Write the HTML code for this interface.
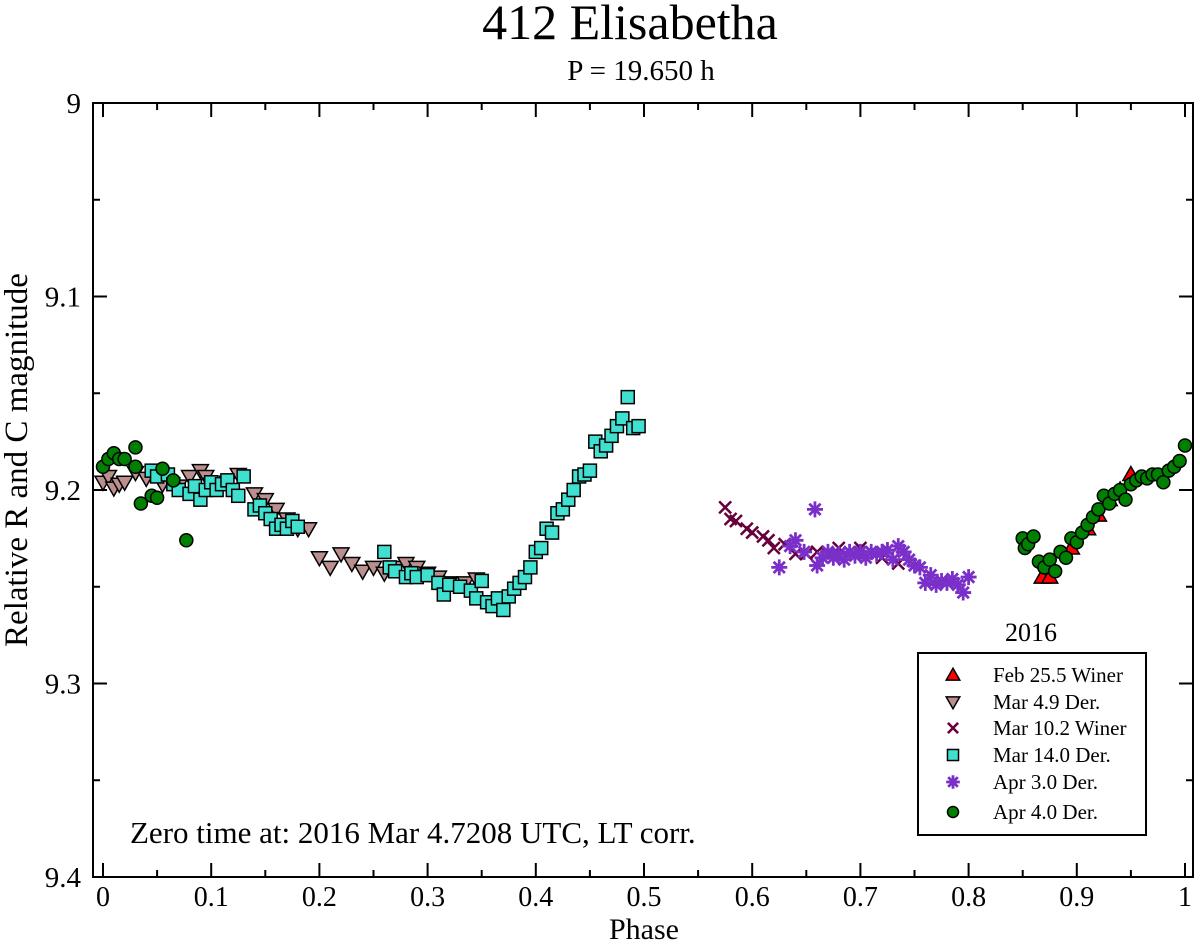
<!DOCTYPE html>
<html><head><meta charset="utf-8"><style>
html,body{margin:0;padding:0;background:#fff}
svg{display:block;font-family:"Liberation Serif",serif}
</style></head><body>
<svg id="chart" width="1200" height="944" viewBox="0 0 1200 944" xmlns="http://www.w3.org/2000/svg">
<text x="630" y="39" font-size="50" text-anchor="middle">412 Elisabetha</text>
<text x="641" y="80" font-size="29" text-anchor="middle">P = 19.650 h</text>
<rect x="93" y="103" width="1100" height="774" fill="none" stroke="#000" stroke-width="2"/>
<g id="axes"></g>
<g id="marks"></g>
<text x="644" y="939" font-size="30" text-anchor="middle">Phase</text>
<text transform="translate(27,460) rotate(-90)" font-size="33" text-anchor="middle">Relative R and C magnitude</text>
<text x="130" y="843" font-size="31">Zero time at: 2016 Mar 4.7208 UTC, LT corr.</text>
<text x="1031" y="641" font-size="26" text-anchor="middle">2016</text>
<g id="legend">
<rect x="918" y="653" width="228" height="182" fill="#fff" stroke="#000" stroke-width="2"/>
</g>
</svg>
<script>
const xTicks=[0,0.1,0.2,0.3,0.4,0.5,0.6,0.7,0.8,0.9,1];
const xTickLabels=["0","0.1","0.2","0.3","0.4","0.5","0.6","0.7","0.8","0.9","1"];
const yTicks=[9,9.1,9.2,9.3,9.4];
const yTickLabels=["9","9.1","9.2","9.3","9.4"];
const seriesNames=["Feb 25.5 Winer","Mar 4.9 Der.","Mar 10.2 Winer","Mar 14.0 Der.","Apr 3.0 Der.","Apr 4.0 Der."];
const febPhase=[0.868,0.875,0.895,0.91,0.92,0.93,0.94,0.95];
const febMag=[9.245,9.245,9.23,9.22,9.213,9.205,9.2,9.192];
const mar4Phase=[0,0.005,0.01,0.015,0.02,0.03,0.04,0.055,0.07,0.08,0.09,0.095,0.1,0.115,0.125,0.14,0.15,0.16,0.17,0.18,0.19,0.2,0.21,0.22,0.23,0.24,0.25,0.26,0.27,0.28,0.29,0.3,0.31,0.32,0.335,0.345];
const mar4Mag=[9.196,9.193,9.199,9.197,9.196,9.191,9.194,9.197,9.198,9.193,9.19,9.193,9.197,9.196,9.192,9.202,9.205,9.21,9.215,9.22,9.22,9.235,9.24,9.233,9.238,9.242,9.24,9.243,9.24,9.238,9.24,9.243,9.245,9.248,9.248,9.246];
const mar10Phase=[0.575,0.58,0.585,0.595,0.6,0.61,0.615,0.62,0.63,0.64,0.65,0.66,0.67,0.68,0.7,0.72,0.735];
const mar10Mag=[9.209,9.215,9.216,9.22,9.222,9.224,9.226,9.23,9.228,9.233,9.233,9.232,9.233,9.23,9.23,9.235,9.238];
const mar14Phase=[0.045,0.05,0.06,0.065,0.07,0.08,0.085,0.09,0.095,0.1,0.105,0.11,0.115,0.12,0.125,0.13,0.14,0.145,0.15,0.155,0.16,0.165,0.17,0.175,0.18,0.26,0.265,0.27,0.28,0.285,0.29,0.3,0.31,0.315,0.32,0.33,0.34,0.345,0.35,0.355,0.36,0.365,0.37,0.375,0.38,0.385,0.39,0.395,0.4,0.405,0.41,0.415,0.42,0.425,0.43,0.435,0.44,0.445,0.45,0.455,0.46,0.465,0.47,0.475,0.48,0.485,0.49,0.495];
const mar14Mag=[9.19,9.193,9.192,9.197,9.2,9.202,9.198,9.205,9.2,9.196,9.2,9.197,9.195,9.2,9.203,9.193,9.21,9.208,9.212,9.215,9.22,9.218,9.22,9.216,9.219,9.232,9.24,9.242,9.245,9.243,9.245,9.244,9.248,9.254,9.249,9.25,9.252,9.256,9.247,9.258,9.26,9.256,9.262,9.255,9.251,9.248,9.245,9.24,9.232,9.23,9.22,9.222,9.212,9.21,9.205,9.2,9.193,9.192,9.19,9.175,9.18,9.177,9.172,9.167,9.163,9.152,9.168,9.167];
const apr3Phase=[0.625,0.635,0.64,0.648,0.658,0.66,0.665,0.67,0.675,0.68,0.685,0.69,0.695,0.7,0.705,0.71,0.715,0.72,0.725,0.73,0.735,0.74,0.745,0.75,0.755,0.76,0.765,0.77,0.775,0.78,0.785,0.79,0.795,0.8];
const apr3Mag=[9.24,9.229,9.226,9.232,9.21,9.239,9.235,9.232,9.235,9.233,9.236,9.232,9.234,9.232,9.235,9.232,9.233,9.232,9.231,9.236,9.229,9.232,9.236,9.239,9.24,9.248,9.244,9.249,9.247,9.248,9.246,9.249,9.253,9.245];
const apr4Phase=[0,0.005,0.01,0.015,0.02,0.03,0.03,0.035,0.045,0.05,0.055,0.065,0.077,0.85,0.852,0.855,0.86,0.865,0.87,0.875,0.88,0.885,0.89,0.895,0.9,0.905,0.91,0.915,0.92,0.925,0.93,0.935,0.94,0.945,0.95,0.955,0.96,0.965,0.97,0.975,0.98,0.985,0.99,0.995,1.0];
const apr4Mag=[9.188,9.184,9.181,9.184,9.184,9.188,9.178,9.207,9.203,9.204,9.189,9.195,9.226,9.225,9.23,9.228,9.224,9.237,9.24,9.236,9.242,9.232,9.235,9.225,9.227,9.222,9.218,9.214,9.21,9.203,9.207,9.202,9.2,9.205,9.197,9.195,9.193,9.194,9.192,9.192,9.196,9.19,9.188,9.185,9.177];

const NS="http://www.w3.org/2000/svg";
const X0=103,XS=1082,Y0=103,YS=1935;
function sx(p){return X0+p*XS;}
function sy(m){return Y0+(m-9)*YS;}
function mk(tag,attrs,parent){const e=document.createElementNS(NS,tag);for(const k in attrs)e.setAttribute(k,attrs[k]);parent.appendChild(e);return e;}
const axes=document.getElementById('axes');
for(let i=0;i<=20;i++){
  const v=i*0.05,x=sx(v),len=(i%2===0)?14:7;
  const t1=mk('line',{x1:x,x2:x,y1:877,y2:877-len,stroke:'#000','stroke-width':2},axes);
  
  
  const t2=mk('line',{x1:x,x2:x,y1:103,y2:103+len,stroke:'#000','stroke-width':2},axes);
  
  
}
xTicks.forEach((v,i)=>{
  const t=mk('text',{x:sx(v),y:906,'font-size':28,'text-anchor':'middle'},axes);
  t.textContent=xTickLabels[i];
  
  
});
for(let i=0;i<=8;i++){
  const v=9+i*0.05,y=sy(v),len=(i%2===0)?14:7;
  const t1=mk('line',{x1:93,x2:93+len,y1:y,y2:y,stroke:'#000','stroke-width':2},axes);
  
  
  const t2=mk('line',{x1:1193,x2:1193-len,y1:y,y2:y,stroke:'#000','stroke-width':2},axes);
  
  
}
yTicks.forEach((v,i)=>{
  const t=mk('text',{x:81,y:sy(v)+10,'font-size':29,'text-anchor':'end'},axes);
  t.textContent=yTickLabels[i];
  
  
});
function sym(type,x,y,parent,s){
  s=s||1;let e;
  if(type==='up'){e=mk('polygon',{points:`${x},${y-8*s} ${x-8*s},${y+6*s} ${x+8*s},${y+6*s}`,fill:'#f00',stroke:'#000','stroke-width':1.5},parent);}
  else if(type==='down'){e=mk('polygon',{points:`${x},${y+8*s} ${x-8*s},${y-6*s} ${x+8*s},${y-6*s}`,fill:'#bc8f8f',stroke:'#000','stroke-width':1.5},parent);}
  else if(type==='x'){e=mk('path',{d:`M${x-6*s},${y-6*s}L${x+6*s},${y+6*s}M${x-6*s},${y+6*s}L${x+6*s},${y-6*s}`,stroke:'#67003a','stroke-width':2.5,fill:'none'},parent);}
  else if(type==='sq'){e=mk('rect',{x:x-6.5*s,y:y-6.5*s,width:13*s,height:13*s,fill:'#40e0d0',stroke:'#000','stroke-width':1.5},parent);}
  else if(type==='star'){let d='';for(let a=0;a<4;a++){const ang=a*Math.PI/4,dx=8*s*Math.cos(ang),dy=8*s*Math.sin(ang);d+=`M${x-dx},${y-dy}L${x+dx},${y+dy}`;}e=mk('path',{d:d,stroke:'#7b2fc9','stroke-width':2.8,fill:'none'},parent);}
  else {e=mk('circle',{cx:x,cy:y,r:6.5*s,fill:'#008000',stroke:'#000','stroke-width':1.5},parent);}
  return e;
}
const marks=document.getElementById('marks');
const series=[
 ['down',mar4Phase,mar4Mag,'mar4-point'],
 ['sq',mar14Phase,mar14Mag,'mar14-point'],
 ['x',mar10Phase,mar10Mag,'mar10-point'],
 ['star',apr3Phase,apr3Mag,'apr3-point'],
 ['up',febPhase,febMag,'feb25-point'],
 ['circ',apr4Phase,apr4Mag,'apr4-point']
];
series.forEach(([t,px,py,nm])=>{
  px.forEach((p,i)=>{
    const e=sym(t,sx(p),sy(py[i]),marks);
    
    
  });
});
const legend=document.getElementById('legend');
const legTypes=['up','down','x','sq','star','circ'];
const legY=[675,702,728,755,782,812];
legTypes.forEach((t,i)=>{
  const e=sym(t,953,legY[i],legend,0.85);
  
  
  const tx=mk('text',{x:993,y:legY[i]+7,'font-size':21},legend);
  tx.textContent=seriesNames[i];
  
  
});
</script>
</body></html>
